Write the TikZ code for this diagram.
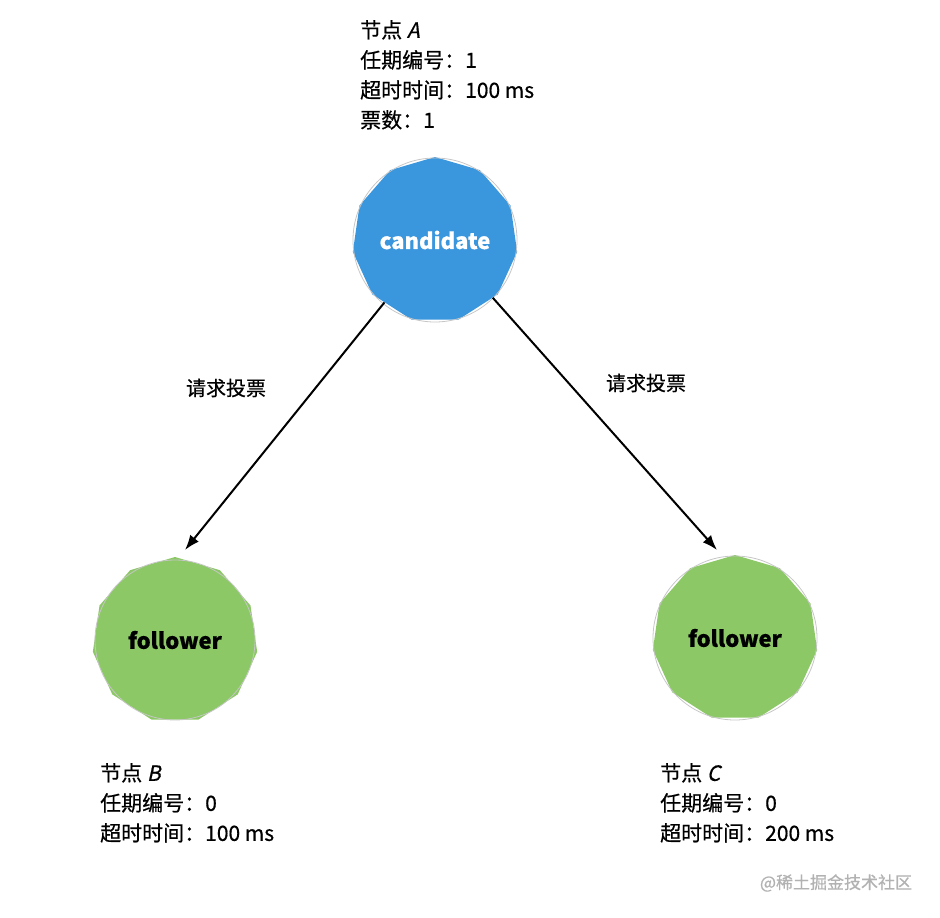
\documentclass[tikz,border=0pt]{standalone}
\usepackage{fontspec}
\setmainfont{Noto Sans CJK SC}[FakeBold=0.6]
\newfontfamily\slantfont{Noto Sans CJK SC}[FakeSlant=0.22,FakeBold=0.6]
\usetikzlibrary{shapes.geometric,arrows.meta}
\definecolor{candblue}{HTML}{3A96DD}
\definecolor{flwgreen}{HTML}{8CC966}
\begin{document}
\begin{tikzpicture}[x=1pt,y=-1pt,
  disc/.style={regular polygon,regular polygon sides=11,minimum size=166,inner sep=0,font=\fontsize{22}{24}\selectfont\bfseries},
  ring/.style={draw=gray!45,line width=0.8pt},
  info/.style={anchor=north west,align=left,inner sep=0,font=\fontsize{21}{30}\selectfont},
  vote/.style={font=\fontsize{20}{24}\selectfont},
  req/.style={-{Latex[length=15pt,width=11pt]},line width=2pt}]
\useasboundingbox (0,0) rectangle (940,918);

% nodes
\node[disc,fill=candblue,text=white] (cand) at (435,240) {candidate};
\draw[ring] (cand.center) circle (82);
\node[disc,fill=flwgreen] (flwB) at (175,640) {follower};
\draw[ring] (flwB.center) circle (80);
\node[disc,fill=flwgreen] (flwC) at (735,638) {follower};
\draw[ring] (flwC.center) circle (82);

% info texts
\node[info] (infoA) at (360,20) {节点 {\slantfont A}\\任期编号：1\\超时时间：100 ms\\票数：1};
\node[info] (infoB) at (100,763) {节点 {\slantfont B}\\任期编号：0\\超时时间：100 ms};
\node[info] (infoC) at (660,763) {节点 {\slantfont C}\\任期编号：0\\超时时间：200 ms};

% requests
\coordinate (tipB) at (185,550);
\coordinate (tipC) at (717,550);
\draw[req] (cand.231) -- (tipB);
\draw[req] (cand.315) -- (tipC);
\node[vote] (reqB) at (226,388) {请求投票};
\node[vote] (reqC) at (646,383) {请求投票};

\node[font=\fontsize{17}{20}\selectfont,text=gray!60] (mark) at (836,883) {@稀土掘金技术社区};
\end{tikzpicture}
\end{document}
